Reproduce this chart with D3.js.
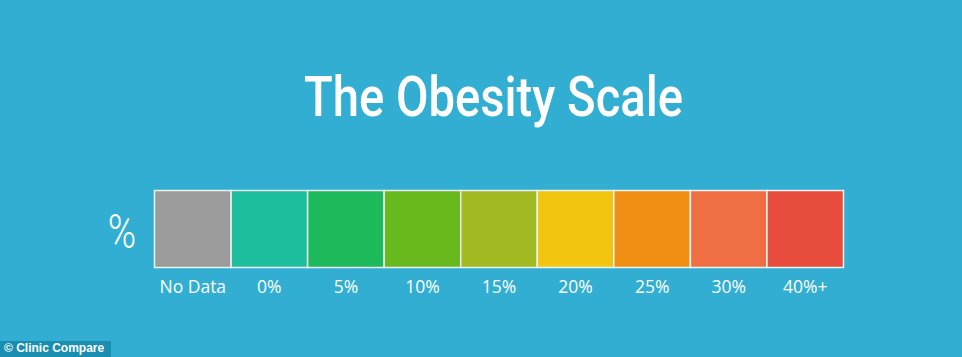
<!DOCTYPE html>
<html><head><meta charset="utf-8">
<script src="https://cdn.jsdelivr.net/npm/d3@7"></script>
<style>html,body{margin:0;padding:0;background:#31AED1;overflow:hidden}</style>
</head><body>
<svg id="c" width="962" height="357"></svg>
<script>
const categories = ["No Data","0%","5%","10%","15%","20%","25%","30%","40%+"];
const colors = ["#9B9B9B","#1CBE9D","#1EB95B","#68B91E","#A3B922","#F2C511","#F08F13","#F06E43","#E84C3D"];
const title = "The Obesity Scale";
const unitLabel = "%";
const credit = "© Clinic Compare";

const svg = d3.select("#c");
svg.append("rect").attr("width",962).attr("height",357).attr("fill","#31AED1");

const x = d3.scaleBand().domain(categories).range([154.5,843.5]).padding(0);
const y0 = 190.5, h = 77;

svg.append("text").attr("x",304).attr("y",116)
  .attr("fill","#fff").attr("font-family","Roboto").attr("font-weight",500)
  .attr("font-size",55).attr("textLength",379).attr("lengthAdjust","spacingAndGlyphs").text(title);

svg.append("text").attr("transform","translate(122,248) scale(0.8,1)").attr("text-anchor","middle")
  .attr("fill","#fff").attr("font-family","Roboto").attr("font-weight",300)
  .attr("font-size",48).text(unitLabel);

svg.selectAll("rect.cell").data(categories).join("rect").attr("class","cell")
  .attr("x",d=>x(d)).attr("y",y0).attr("width",x.bandwidth()).attr("height",h)
  .attr("fill",(d,i)=>colors[i]).attr("stroke","#EAF4F2").attr("stroke-width",1.5);

const axis = d3.axisBottom(x).tickSize(0).tickPadding(0);
const g = svg.append("g").attr("transform",`translate(0,293)`).call(axis);
g.select(".domain").remove();
g.selectAll("text").attr("fill","#fff").attr("font-family","'Open Sans'")
  .attr("font-size",17.5).attr("dy",0).attr("y",0);

svg.append("rect").attr("x",0).attr("y",341).attr("width",111).attr("height",16).attr("fill","#1A8EB0");
svg.append("text").attr("x",4).attr("y",352).attr("fill","#fff")
  .attr("font-family","'Liberation Sans'").attr("font-weight",700).attr("font-size",12).text(credit);
</script>
</body></html>
